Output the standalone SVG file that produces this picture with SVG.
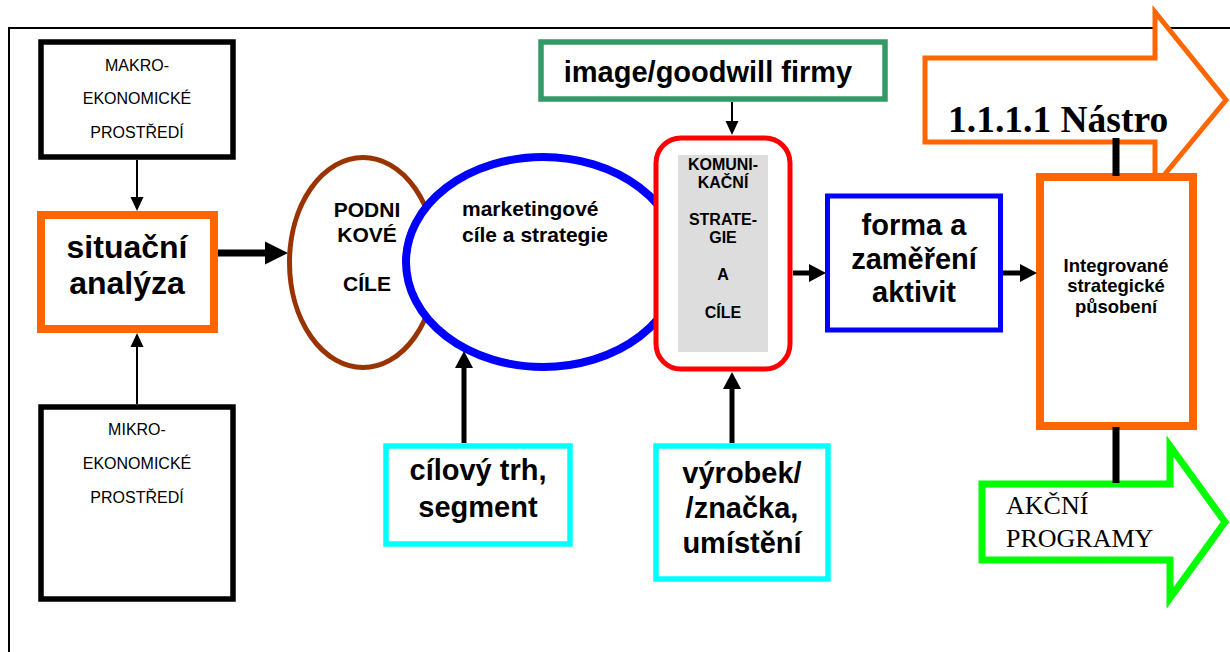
<svg xmlns="http://www.w3.org/2000/svg" width="1230" height="652" viewBox="0 0 1230 652">
<defs>
<style>
.sans{font-family:"Liberation Sans",Arial,sans-serif;fill:#000}
.b{font-weight:bold}
.serif{font-family:"Liberation Serif","Times New Roman",serif;fill:#000}
.conn{stroke:#000;fill:none}
</style>
<marker id="arrThin" markerUnits="userSpaceOnUse" markerWidth="20" markerHeight="20" refX="0" refY="0" viewBox="0 -10 20 20" orient="auto" overflow="visible"><path d="M0,-6.5 L14,0 L0,6.5 z" fill="#000"/></marker>
<marker id="arrMed" markerUnits="userSpaceOnUse" markerWidth="20" markerHeight="20" refX="0" refY="0" viewBox="0 -10 20 20" orient="auto" overflow="visible"><path d="M0,-9 L17,0 L0,9 z" fill="#000"/></marker>
<marker id="arrBig" markerUnits="userSpaceOnUse" markerWidth="30" markerHeight="30" refX="0" refY="0" viewBox="0 -15 30 30" orient="auto" overflow="visible"><path d="M0,-11.5 L23,0 L0,11.5 z" fill="#000"/></marker>
</defs>
<rect width="1230" height="652" fill="#fff"/>
<g id="frame" stroke="#000" stroke-width="2" fill="none">
<path d="M9,652 L9,28 L1230,28"/>
</g>

<g id="makro">
<rect x="41" y="42" width="192" height="115" fill="#fff" stroke="#000" stroke-width="5.5"/>
<text class="sans" font-size="16" text-anchor="middle" x="137" y="71">MAKRO-</text>
<text class="sans" font-size="16" text-anchor="middle" x="137" y="104">EKONOMICKÉ</text>
<text class="sans" font-size="16" text-anchor="middle" x="137" y="138">PROSTŘEDÍ</text>
</g>

<g id="situacni">
<rect x="41" y="215" width="173" height="114" fill="#fff" stroke="#FF6600" stroke-width="8"/>
<text class="sans b" font-size="32" text-anchor="middle" x="127" y="258">situační</text>
<text class="sans b" font-size="32" text-anchor="middle" x="127" y="294">analýza</text>
</g>

<g id="mikro">
<rect x="41" y="407" width="192" height="192" fill="#fff" stroke="#000" stroke-width="5.5"/>
<text class="sans" font-size="16" text-anchor="middle" x="137" y="435">MIKRO-</text>
<text class="sans" font-size="16" text-anchor="middle" x="137" y="469">EKONOMICKÉ</text>
<text class="sans" font-size="16" text-anchor="middle" x="137" y="503">PROSTŘEDÍ</text>
</g>

<g id="podnikove">
<ellipse cx="363" cy="262.5" rx="73.5" ry="105" fill="#fff" stroke="#993300" stroke-width="5"/>
<text class="sans b" font-size="21" text-anchor="middle" x="367" y="217">PODNI</text>
<text class="sans b" font-size="21" text-anchor="middle" x="367" y="242">KOVÉ</text>
<text class="sans b" font-size="21" text-anchor="middle" x="367" y="291">CÍLE</text>
</g>

<g id="marketingove">
<ellipse cx="543" cy="262" rx="137" ry="105" fill="#fff" stroke="#0000FF" stroke-width="8"/>
<text class="sans b" font-size="21" x="462" y="216">marketingové</text>
<text class="sans b" font-size="21" x="462" y="242">cíle a strategie</text>
</g>

<g id="image">
<rect x="541" y="42" width="344" height="57" fill="#fff" stroke="#339966" stroke-width="5.5"/>
<text class="sans b" font-size="29" text-anchor="middle" x="708" y="82">image/goodwill firmy</text>
</g>

<g id="komunikacni">
<rect x="656" y="138" width="134" height="231" rx="25" ry="25" fill="#fff" stroke="#FF0000" stroke-width="5"/>
<rect x="678" y="155" width="90" height="197" fill="#DDDDDD"/>
<text class="sans b" font-size="16" text-anchor="middle" x="723" y="170">KOMUNI-</text>
<text class="sans b" font-size="16" text-anchor="middle" x="723" y="188">KAČNÍ</text>
<text class="sans b" font-size="16" text-anchor="middle" x="723" y="225">STRATE-</text>
<text class="sans b" font-size="16" text-anchor="middle" x="723" y="243">GIE</text>
<text class="sans b" font-size="16" text-anchor="middle" x="723" y="280">A</text>
<text class="sans b" font-size="16" text-anchor="middle" x="723" y="318">CÍLE</text>
</g>

<g id="forma">
<rect x="827.5" y="196" width="173" height="134" fill="#fff" stroke="#0000FF" stroke-width="5"/>
<text class="sans b" font-size="29" text-anchor="middle" x="914" y="235">forma a</text>
<text class="sans b" font-size="29" text-anchor="middle" x="914" y="269">zaměření</text>
<text class="sans b" font-size="29" text-anchor="middle" x="914" y="302">aktivit</text>
</g>

<g id="nastroje">
<path d="M925,58 L1155,58 L1155,12 L1226,100 L1155,186 L1155,142 L925,142 Z" fill="#fff" stroke="#FF6600" stroke-width="5"/>
<text class="serif b" font-size="37.5" x="948" y="132">1.1.1.1 Nástro</text>
</g>

<g id="integrovane">
<rect x="1040" y="177" width="153" height="249" fill="#fff" stroke="#FF6600" stroke-width="8"/>
<text class="sans b" font-size="18.5" text-anchor="middle" x="1116" y="272">Integrované</text>
<text class="sans b" font-size="18.5" text-anchor="middle" x="1116" y="292">strategické</text>
<text class="sans b" font-size="18.5" text-anchor="middle" x="1116" y="313">působení</text>
</g>

<g id="akcni">
<path d="M982,484 L1170,484 L1170,446 L1225,522 L1170,598 L1170,560 L982,560 Z" fill="#fff" stroke="#00FF00" stroke-width="7"/>
<text class="serif" font-size="26" x="1006" y="514">AKČNÍ</text>
<text class="serif" font-size="26" x="1006" y="547">PROGRAMY</text>
</g>

<g id="cilovy">
<rect x="386" y="446" width="184" height="98" fill="#fff" stroke="#00FFFF" stroke-width="5.5"/>
<text class="sans b" font-size="29" text-anchor="middle" x="478" y="480">cílový trh,</text>
<text class="sans b" font-size="29" text-anchor="middle" x="478" y="517">segment</text>
</g>

<g id="vyrobek">
<rect x="656" y="446" width="172" height="133" fill="#fff" stroke="#00FFFF" stroke-width="5.5"/>
<text class="sans b" font-size="29" text-anchor="middle" x="742" y="483">výrobek/</text>
<text class="sans b" font-size="29" text-anchor="middle" x="742" y="518">/značka,</text>
<text class="sans b" font-size="29" text-anchor="middle" x="742" y="553">umístění</text>
</g>

<g id="connectors">
<line class="conn" x1="137" y1="160" x2="137" y2="197" stroke-width="2" marker-end="url(#arrThin)"/>
<line class="conn" x1="137" y1="404" x2="137" y2="347" stroke-width="2" marker-end="url(#arrThin)"/>
<line class="conn" x1="218" y1="253" x2="265" y2="253" stroke-width="7" marker-end="url(#arrBig)"/>
<line class="conn" x1="732" y1="102" x2="732" y2="121" stroke-width="2" marker-end="url(#arrThin)"/>
<line class="conn" x1="793" y1="273" x2="809" y2="273" stroke-width="5" marker-end="url(#arrMed)"/>
<line class="conn" x1="1003" y1="273" x2="1020" y2="273" stroke-width="5" marker-end="url(#arrMed)"/>
<line class="conn" x1="464" y1="443" x2="464" y2="368" stroke-width="5" marker-end="url(#arrMed)"/>
<line class="conn" x1="732" y1="443" x2="732" y2="389" stroke-width="5" marker-end="url(#arrMed)"/>
<line class="conn" x1="1116" y1="138" x2="1116" y2="176" stroke-width="7"/>
<line class="conn" x1="1116" y1="427" x2="1116" y2="483" stroke-width="7"/>
</g>
</svg>
